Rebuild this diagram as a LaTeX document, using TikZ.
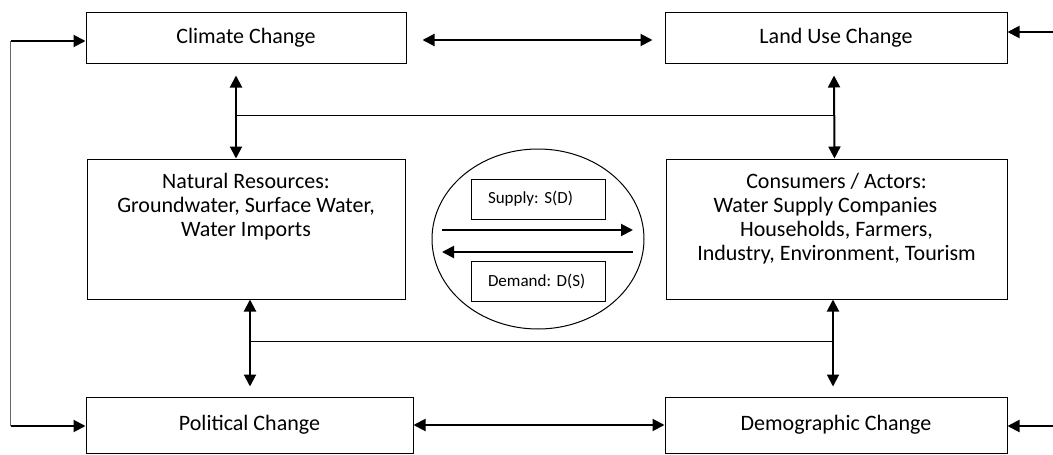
\documentclass[tikz,border=0pt]{standalone}
\usepackage{fontspec}
\setmainfont{Carlito}
\frenchspacing
\usetikzlibrary{arrows.meta,shapes.geometric}

\begin{document}
\begin{tikzpicture}[x=1pt, y=-1pt, >={Triangle[length=12pt,width=12pt]},
    box/.style={draw, line width=1pt, inner sep=0pt, font=\fontsize{22}{24}\selectfont},
    boxtext/.style={anchor=north, align=center, inner sep=0pt, font=\fontsize{22}{24}\selectfont},
    smallbox/.style={draw, line width=1pt, minimum width=134pt, minimum height=40pt, text width=112pt,
      inner xsep=11pt, inner ysep=0pt, align=left, font=\fontsize{17}{20}\selectfont},
    arr/.style={line width=2pt},
    link/.style={line width=1pt}]
  \useasboundingbox (0,0) rectangle (1053,455);

  \node[box, minimum width=320pt, minimum height=51pt] (clim) at (246,37.5) {Climate Change};
  \node[box, minimum width=342pt, minimum height=51pt] (land) at (836,37.5) {Land Use Change};
  \node[box, minimum width=318pt, minimum height=140pt] (nat) at (246,229) {};
  \node[box, minimum width=341pt, minimum height=140pt] (cons) at (836.5,229) {};
  \node[box, minimum width=327pt, minimum height=56pt] (pol) at (249.5,425) {Political Change};
  \node[box, minimum width=342pt, minimum height=56pt] (demo) at (836,425) {Demographic Change};

  \node[boxtext] (natlbl) at ([yshift=-15pt]nat.north) {Natural Resources:\\ Groundwater, Surface Water,\\ Water Imports};
  \node[boxtext] (conslbl) at ([yshift=-15pt]cons.north) {Consumers / Actors:\\ \mbox{Water Supply Companies\hspace{22pt}}\\ Households, Farmers,\\ Industry, Environment, Tourism};

  \node[draw, ellipse, line width=1pt, minimum width=212pt, minimum height=180pt] (eq) at (538,239) {};
  \node[smallbox] (sup) at (538,199) {\hspace*{6pt}Supply: S(D)};
  \node[smallbox] (dem) at (538,281.5) {\hspace*{6pt}Demand: D(S)};
  \draw[arr, ->] ([xshift=-96pt, yshift=9pt]eq.center) -- ([xshift=95pt, yshift=9pt]eq.center);
  \draw[arr, <-] ([xshift=-96pt, yshift=-13pt]eq.center) -- ([xshift=95pt, yshift=-13pt]eq.center);

  \draw[arr, <->] ([xshift=16pt, yshift=-2.5pt]clim.east) -- ([xshift=-12pt, yshift=-2.5pt]land.west);
  \draw[arr, <->] (pol.east) -- (demo.west);

  \draw[arr, <->] ([xshift=-10pt, yshift=-12pt]clim.south) -- coordinate[pos=0.48] (tl) ([xshift=-10pt]nat.north);
  \draw[arr, <->] ([xshift=-2pt, yshift=-12pt]land.south) -- coordinate[pos=0.48] (tr) ([xshift=-2pt]cons.north);
  \draw[link] (tl) -- (tr);

  \coordinate (natb) at ([xshift=4pt]nat.south);
  \coordinate (consb) at ([xshift=-3.5pt]cons.south);
  \coordinate (polt) at ([yshift=10pt]pol.north);
  \draw[arr, <->] (natb) -- coordinate[pos=0.48] (bl) (natb |- polt);
  \draw[arr, <->] (consb) -- coordinate[pos=0.48] (br) (consb |- polt);
  \draw[link] (bl) -- (br);

  \coordinate (lt) at (10.5,41);
  \coordinate (lb) at (10.5,426);
  \draw[link, black!60] (lt) -- (lb);
  \draw[arr, ->] (lt) -- (lt -| clim.west);
  \draw[arr, ->] (lb) -- (lb -| pol.west);

  \coordinate (rt) at (1053,32);
  \coordinate (rb) at (1053,426);
  \draw[arr, ->] (rt) -- (rt -| land.east);
  \draw[arr, ->] (rb) -- (rb -| demo.east);
\end{tikzpicture}
\end{document}
